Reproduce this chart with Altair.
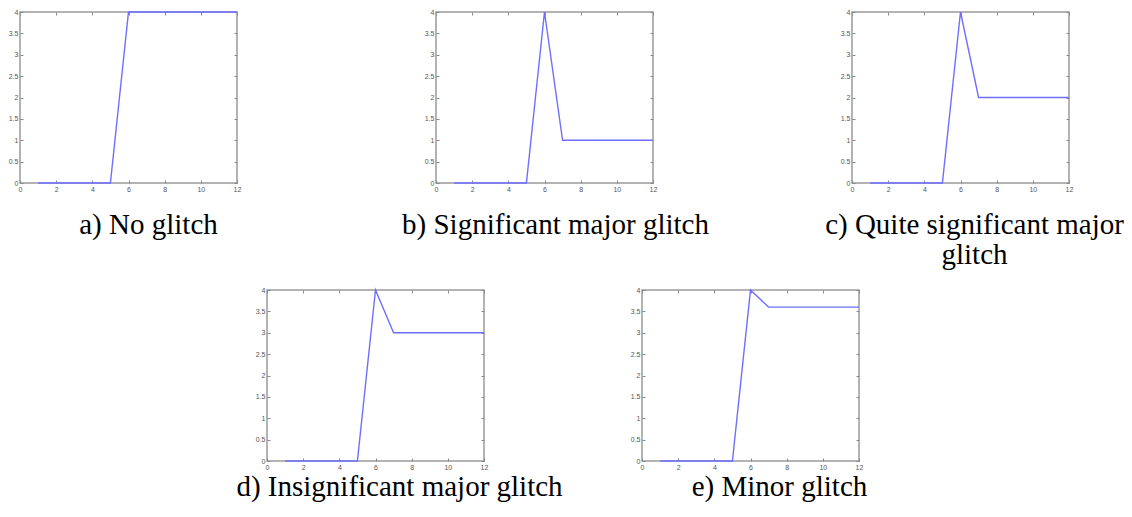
import altair as alt
import pandas as pd

x_vals = [1, 2, 3, 4, 5, 6, 7, 8, 9, 10, 11, 12]
series_a = [0, 0, 0, 0, 0, 4, 4, 4, 4, 4, 4, 4]
series_b = [0, 0, 0, 0, 0, 4, 1, 1, 1, 1, 1, 1]
series_c = [0, 0, 0, 0, 0, 4, 2, 2, 2, 2, 2, 2]
series_d = [0, 0, 0, 0, 0, 4, 3, 3, 3, 3, 3, 3]
series_e = [0, 0, 0, 0, 0, 4, 3.6, 3.6, 3.6, 3.6, 3.6, 3.6]
captions = [
    "a) No glitch",
    "b) Significant major glitch",
    ["c) Quite significant major", "glitch"],
    "d) Insignificant major glitch",
    "e) Minor glitch",
]
x_ticks = [0, 2, 4, 6, 8, 10, 12]
y_ticks = [0, 0.5, 1, 1.5, 2, 2.5, 3, 3.5, 4]

W, H = 217, 171
LINE = "#6f6fff"


def panel(vals, caption, dx, offset):
    df = pd.DataFrame({"x": x_vals, "y": vals})
    base = alt.Chart(df)
    xs = alt.Scale(domain=[0, 12], nice=False, zero=False)
    ys = alt.Scale(domain=[0, 4], nice=False)
    common = dict(offset=-3, tickSize=3, domain=False, grid=False, title=None,
                  labelFlush=False, labelOverlap=False)
    main = base.mark_line(color=LINE, strokeWidth=1.4).encode(
        x=alt.X("x:Q", scale=xs, axis=alt.Axis(orient="bottom", values=x_ticks,
                                               labelPadding=2, **common)),
        y=alt.Y("y:Q", scale=ys, axis=alt.Axis(orient="left", values=y_ticks,
                                               format="~g", labelPadding=2, **common)),
    )
    mirror = base.mark_line(strokeOpacity=0).encode(
        x=alt.X("x:Q", scale=xs, axis=alt.Axis(orient="top", values=x_ticks,
                                               labels=False, **common)),
        y=alt.Y("y:Q", scale=ys, axis=alt.Axis(orient="right", values=y_ticks,
                                               labels=False, **common)),
    )
    return (
        alt.layer(main, mirror)
        .resolve_axis(x="independent", y="independent")
        .properties(
            width=W,
            height=H,
            title=alt.TitleParams(
                text=caption,
                orient="bottom",
                frame="group",
                anchor="middle",
                dx=dx,
                offset=offset,
                font="Liberation Serif",
                fontSize=29,
                fontWeight="normal",
                color="black",
                baseline="alphabetic",
                lineHeight=30,
            ),
        )
    )


spacer = (
    alt.Chart(pd.DataFrame({"x": [0]}))
    .mark_point(opacity=0)
    .encode(x=alt.X("x:Q", axis=None), y=alt.Y("x:Q", axis=None))
    .properties(width=89, height=H, view=alt.ViewBackground(stroke=None))
)

top = alt.hconcat(
    panel(series_a, captions[0], 20, 42),
    panel(series_b, captions[1], 11, 42),
    panel(series_c, captions[2], 14, 42),
    spacing=199,
    bounds="flush",
)
bottom = alt.hconcat(
    spacer,
    panel(series_d, captions[3], 24, 26),
    panel(series_e, captions[4], 29, 26),
    spacing=158,
    bounds="flush",
)

chart = (
    alt.vconcat(top, bottom, spacing=278, bounds="flush")
    .properties(
        autosize=alt.AutoSizeParams(type="none"),
        padding={"left": 12, "top": 4, "right": 1104, "bottom": 497},
        background="white",
    )
    .configure_view(stroke="#9a9a9a", strokeWidth=1.5)
    .configure_axis(labelFont="Liberation Sans", labelFontSize=7,
                    labelColor="#555555", tickColor="#8a8a8a")
)

chart.save("out.html", embed_options={"renderer": "svg", "actions": False})
